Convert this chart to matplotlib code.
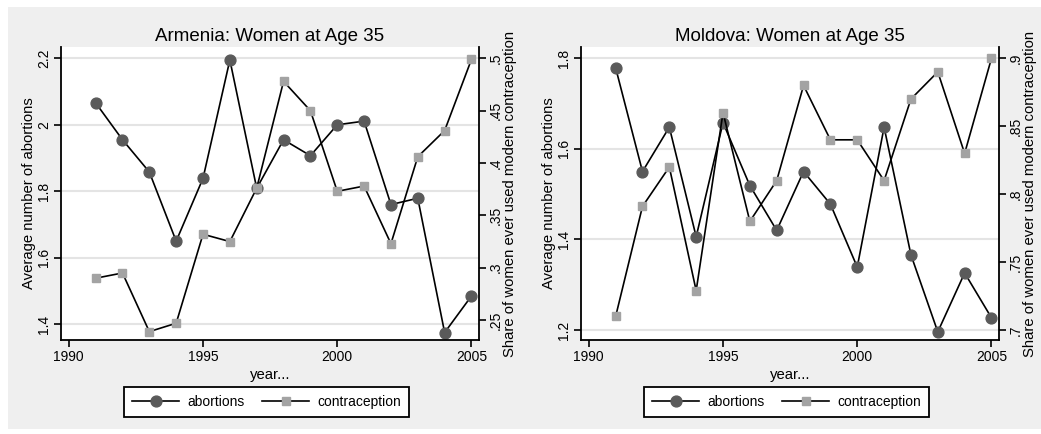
import matplotlib
matplotlib.use("Agg")
import matplotlib.pyplot as plt
from matplotlib.lines import Line2D
from matplotlib.patches import Rectangle
from matplotlib.ticker import FuncFormatter

plt.rcParams["font.family"] = ["Liberation Sans", "DejaVu Sans"]

anos = [1991, 1992, 1993, 1994, 1995, 1996, 1997, 1998, 1999, 2000,
        2001, 2002, 2003, 2004, 2005]

# Armenia
arm_abortos = [2.066, 1.955, 1.858, 1.650, 1.839, 2.195, 1.809, 1.955,
               1.907, 2.000, 2.011, 1.760, 1.779, 1.375, 1.485]
arm_anticon = [0.290, 0.295, 0.239, 0.247, 0.332, 0.325, 0.376, 0.478,
               0.450, 0.373, 0.378, 0.323, 0.406, 0.431, 0.499]

# Moldova
mol_abortos = [1.779, 1.550, 1.648, 1.406, 1.658, 1.519, 1.420, 1.550,
               1.478, 1.339, 1.648, 1.366, 1.196, 1.326, 1.227]
mol_anticon = [0.710, 0.791, 0.820, 0.729, 0.860, 0.780, 0.810, 0.880,
               0.840, 0.840, 0.810, 0.870, 0.890, 0.830, 0.900]

paneles = [
    {
        "titulo": "Armenia: Women at Age 35",
        "abortos": arm_abortos,
        "anticon": arm_anticon,
        "yticks": [1.4, 1.6, 1.8, 2.0, 2.2],
        "ylim": (1.3526, 2.234),
        "y2ticks": [0.25, 0.30, 0.35, 0.40, 0.45, 0.50],
        "y2lim": (0.231, 0.5108),
        "x0": 61,
    },
    {
        "titulo": "Moldova: Women at Age 35",
        "abortos": mol_abortos,
        "anticon": mol_anticon,
        "yticks": [1.2, 1.4, 1.6, 1.8],
        "ylim": (1.178, 1.825),
        "y2ticks": [0.70, 0.75, 0.80, 0.85, 0.90],
        "y2lim": (0.6927, 0.9083),
        "x0": 581,
    },
]

W, H = 1041, 434
fig = plt.figure(figsize=(W / 100, H / 100), dpi=100, facecolor="white")
fig.patches.append(Rectangle((8 / W, 5 / H), 1 - 8 / W, (429 - 7) / H,
                             transform=fig.transFigure, facecolor="#efefef",
                             edgecolor="none", zorder=-10))

COL_CIRC = "#5a5a5a"
COL_CUAD = "#a3a3a3"
TAM_TICK = 10
TAM_ETIQ = 10.7


def fmt_izq(v, _):
    return f"{v:g}"


def fmt_der(v, _):
    s = f"{v:g}"
    return s[1:] if s.startswith("0.") else s


for p in paneles:
    ax = fig.add_axes([p["x0"] / W, (H - 340) / H, 418 / W, 293 / H])
    ax2 = ax.twinx()

    ax.plot(anos, p["abortos"], color="black", linewidth=1.2, marker="o",
            markersize=7.8, markerfacecolor=COL_CIRC, markeredgecolor=COL_CIRC)
    ax2.plot(anos, p["anticon"], color="black", linewidth=1.2, marker="s",
             markersize=6, markerfacecolor=COL_CUAD,
             markeredgecolor=COL_CUAD)

    ax.set_xlim(1989.71, 2005.28)
    ax.set_xticks([1990, 1995, 2000, 2005])
    ax.set_ylim(*p["ylim"])
    ax.set_yticks(p["yticks"])
    ax.yaxis.set_major_formatter(FuncFormatter(fmt_izq))
    ax2.set_ylim(*p["y2lim"])
    ax2.set_yticks(p["y2ticks"])
    ax2.yaxis.set_major_formatter(FuncFormatter(fmt_der))

    ax.grid(axis="y", color="#e4e4e4", linewidth=1.5)
    ax.set_axisbelow(True)

    for a in (ax, ax2):
        a.set_facecolor("none")
        a.spines["top"].set_visible(False)
    ax.set_facecolor("white")
    ax.spines["right"].set_visible(False)
    ax2.spines["left"].set_visible(False)
    ax2.spines["bottom"].set_visible(False)
    for sp in (ax.spines["left"], ax.spines["bottom"], ax2.spines["right"]):
        sp.set_linewidth(1.3)
        sp.set_color("black")

    ax.tick_params(axis="both", labelsize=TAM_TICK, length=5, width=1.2,
                   direction="out", pad=2)
    ax.tick_params(axis="y", labelrotation=90)
    ax2.tick_params(axis="y", labelsize=TAM_TICK, length=5, width=1.2,
                    direction="out", pad=2, labelrotation=90)
    for t in ax.get_yticklabels() + ax2.get_yticklabels():
        t.set_va("center")

    ax.set_title(p["titulo"], fontsize=13.5, pad=4)
    ax.set_xlabel("year...", fontsize=TAM_ETIQ, labelpad=3)
    ax.set_ylabel("Average number of abortions", fontsize=TAM_ETIQ,
                  labelpad=1)
    ax2.set_ylabel("Share of women ever used modern contraception",
                   fontsize=TAM_ETIQ, labelpad=0)

    manijas = [
        Line2D([], [], color="black", linewidth=1.2, marker="o",
               markersize=7.8, markerfacecolor=COL_CIRC,
               markeredgecolor=COL_CIRC),
        Line2D([], [], color="black", linewidth=1.2, marker="s",
               markersize=6, markerfacecolor=COL_CUAD,
               markeredgecolor=COL_CUAD),
    ]
    centro_x = (p["x0"] + 68 + p["x0"] + 343) / 2 / W
    leg = fig.legend(manijas, ["abortions", "contraception"], ncol=2,
                     loc="center", bbox_to_anchor=(centro_x, 1 - 402 / H),
                     fontsize=TAM_TICK, frameon=True, fancybox=False,
                     edgecolor="black", facecolor="white", framealpha=1,
                     handlelength=3.4, columnspacing=1.3, handletextpad=0.55,
                     borderpad=0.55)
    leg.get_frame().set_linewidth(1.3)

fig.savefig("out.png", dpi=100, facecolor=fig.get_facecolor())
